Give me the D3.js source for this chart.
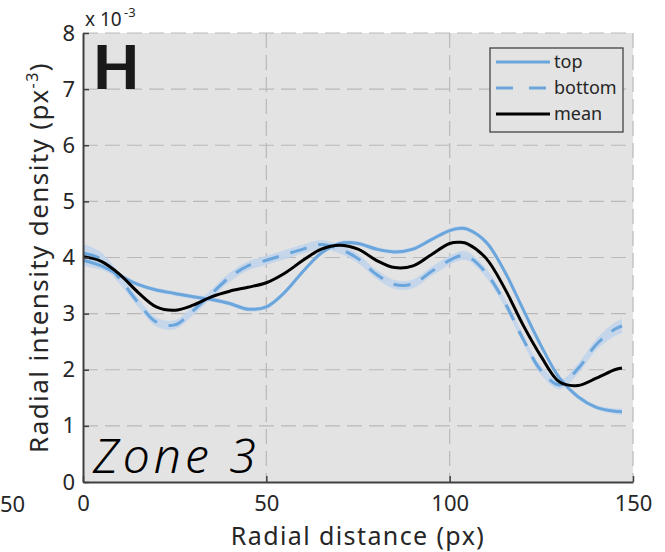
<!DOCTYPE html>
<html>
<head>
<meta charset="utf-8">
<script src="https://cdn.jsdelivr.net/npm/d3@7"></script>
<style>
  body { margin: 0; background: #fff; }
  svg { display: block; font-family: "Noto Sans", Lato, sans-serif; }
</style>
</head>
<body>
<div id="chart"></div>
<script>
// radial distance samples (px)
var xValues      = [0, 5, 10, 15, 20, 25, 30, 35, 40, 45, 50, 55, 60, 65, 70, 75, 80, 85, 90, 95, 100, 103, 105, 110, 115, 120, 125, 130, 135, 140, 145, 147];
// radial intensity density (x 10^-3)
var topValues    = [3.95, 3.85, 3.68, 3.52, 3.42, 3.36, 3.30, 3.25, 3.18, 3.08, 3.12, 3.38, 3.75, 4.08, 4.25, 4.25, 4.15, 4.10, 4.15, 4.32, 4.48, 4.52, 4.50, 4.27, 3.75, 3.08, 2.42, 1.85, 1.52, 1.33, 1.26, 1.25];
var bottomValues = [4.08, 3.97, 3.62, 3.20, 2.85, 2.80, 3.05, 3.35, 3.65, 3.85, 3.95, 4.05, 4.15, 4.23, 4.15, 3.98, 3.70, 3.52, 3.53, 3.75, 3.95, 4.03, 4.02, 3.72, 3.20, 2.55, 1.98, 1.73, 2.02, 2.45, 2.72, 2.78];
var meanValues   = [4.02, 3.93, 3.70, 3.38, 3.12, 3.06, 3.15, 3.30, 3.40, 3.47, 3.55, 3.72, 3.95, 4.15, 4.22, 4.15, 3.95, 3.82, 3.85, 4.05, 4.25, 4.27, 4.24, 3.98, 3.45, 2.80, 2.23, 1.78, 1.72, 1.85, 2.00, 2.03];
// half widths of the shaded bands
var topSpread    = [0.10, 0.07, 0.05, 0.04, 0.04, 0.04, 0.04, 0.04, 0.04, 0.04, 0.04, 0.04, 0.04, 0.04, 0.04, 0.04, 0.04, 0.04, 0.04, 0.04, 0.04, 0.04, 0.04, 0.04, 0.04, 0.04, 0.04, 0.04, 0.04, 0.04, 0.05, 0.06];
var bottomSpread = [0.16, 0.12, 0.09, 0.08, 0.08, 0.08, 0.08, 0.08, 0.08, 0.08, 0.08, 0.08, 0.08, 0.08, 0.08, 0.08, 0.08, 0.08, 0.08, 0.08, 0.08, 0.08, 0.08, 0.08, 0.08, 0.08, 0.08, 0.08, 0.09, 0.10, 0.12, 0.13];

var xTicks = [0, 50, 100, 150];
var yTicks = [0, 1, 2, 3, 4, 5, 6, 7, 8];
var legendNames = ["top", "bottom", "mean"];

var W = 665, H = 552;
var margin = {top: 33, right: 32, bottom: 70, left: 83},
  width = W - margin.left - margin.right,
  height = H - margin.top - margin.bottom;

var blue = "#6aa5dc", band = "#bfd4ec", axisCol = "#404040", gridCol = "#b9b9b9", textCol = "#262626";

var svg = d3.select("#chart")
  .append("svg")
  .attr("width", W)
  .attr("height", H);

var g = svg.append("g")
  .attr("transform", "translate(" + margin.left + "," + margin.top + ")");

var x = d3.scaleLinear().domain([0, 150]).range([0, width]);
var y = d3.scaleLinear().domain([0, 8]).range([height, 0]);

// plot background
g.append("rect")
  .attr("width", width)
  .attr("height", height)
  .attr("fill", "#e3e3e3");

// dashed grid
g.append("g").selectAll("line")
  .data(yTicks.filter(d => d > 0))
  .enter().append("line")
  .attr("x1", 0).attr("x2", width)
  .attr("y1", d => y(d)).attr("y2", d => y(d))
  .attr("stroke", gridCol).attr("stroke-width", 1.2)
  .attr("stroke-dasharray", "15,7");
g.append("g").selectAll("line")
  .data(xTicks.filter(d => d > 0))
  .enter().append("line")
  .attr("y1", 0).attr("y2", height)
  .attr("x1", d => x(d)).attr("x2", d => x(d))
  .attr("stroke", gridCol).attr("stroke-width", 1.2)
  .attr("stroke-dasharray", "15,7");

var pts = xValues.map(function(v, i) {
  return {x: v, top: topValues[i], bottom: bottomValues[i], mean: meanValues[i], ts: topSpread[i], bs: bottomSpread[i]};
});

var curve = d3.curveCatmullRom.alpha(0.5);

var area = function(key, spread) {
  return d3.area().curve(curve)
    .x(d => x(d.x))
    .y0(d => y(d[key] - d[spread]))
    .y1(d => y(d[key] + d[spread]));
};
var line = function(key) {
  return d3.line().curve(curve)
    .x(d => x(d.x))
    .y(d => y(d[key]));
};

// shaded bands
g.append("path").datum(pts).attr("d", area("bottom", "bs")).attr("fill", band).attr("opacity", 0.85);
g.append("path").datum(pts).attr("d", area("top", "ts")).attr("fill", band).attr("opacity", 0.85);

// lines
g.append("path").datum(pts).attr("d", line("bottom"))
  .attr("fill", "none").attr("stroke", blue).attr("stroke-width", 3)
  .attr("stroke-dasharray", "17,12");
g.append("path").datum(pts).attr("d", line("top"))
  .attr("fill", "none").attr("stroke", blue).attr("stroke-width", 3);
g.append("path").datum(pts).attr("d", line("mean"))
  .attr("fill", "none").attr("stroke", "#000").attr("stroke-width", 3);

// axes
var xAxis = g.append("g")
  .attr("transform", "translate(0," + height + ")")
  .call(d3.axisBottom(x).tickValues(xTicks).tickSizeInner(-6).tickSizeOuter(0).tickPadding(13));
var yAxis = g.append("g")
  .call(d3.axisLeft(y).tickValues(yTicks).tickSizeInner(-6).tickSizeOuter(0).tickPadding(8));
[xAxis, yAxis].forEach(function(a) {
  a.select(".domain").attr("stroke", axisCol).attr("stroke-width", 2);
  a.selectAll(".tick line").attr("stroke", axisCol).attr("stroke-width", 1.5);
  a.selectAll(".tick text").attr("fill", textCol).style("font-size", "22px").style("font-family", "'Noto Sans', sans-serif");
});
xAxis.selectAll(".tick text").attr("dy", "0.71em");

// exponent
svg.append("text")
  .attr("x", margin.left + 2).attr("y", 26)
  .attr("fill", textCol).style("font-size", "19px")
  .text("x 10");
svg.append("text")
  .attr("x", margin.left + 41).attr("y", 17)
  .attr("fill", textCol).style("font-size", "13px")
  .text("-3");

// axis labels
svg.append("text")
  .attr("x", margin.left + width / 2).attr("y", 545)
  .attr("text-anchor", "middle")
  .attr("fill", textCol).style("font-size", "25px").style("letter-spacing", "1.4px")
  .text("Radial distance (px)");

var yl = svg.append("text")
  .attr("transform", "translate(48," + (margin.top + height / 2) + ") rotate(-90)")
  .attr("text-anchor", "middle")
  .attr("fill", textCol).style("font-size", "26px").style("letter-spacing", "1.4px");
yl.append("tspan").text("Radial intensity density (px");
yl.append("tspan").attr("dy", -10).style("font-size", "16px").text("-3");
yl.append("tspan").attr("dy", 10).text(")");

// neighbour panel leftover (its tick label is cut by the page edge)
svg.append("text")
  .attr("x", 0).attr("y", 512)
  .attr("fill", textCol).style("font-size", "22px")
  .text("50");

// panel letter and zone
svg.append("text")
  .attr("x", 93).attr("y", 89)
  .attr("fill", "#1a1a1a").style("font-size", "60px").style("font-weight", 900)
  .style("font-family", "Lato, sans-serif")
  .text("H");
svg.append("text")
  .attr("x", 93).attr("y", 473)
  .attr("fill", "#000").style("font-size", "48px").style("font-style", "italic").style("font-weight", 300)
  .style("letter-spacing", "4px")
  .text("Zone 3");

// legend
var lg = svg.append("g").attr("transform", "translate(490,48)");
lg.append("rect")
  .attr("width", 133).attr("height", 84)
  .attr("fill", "#e3e3e3").attr("stroke", "#444").attr("stroke-width", 1.3);
var styles = [
  {stroke: blue, dash: null},
  {stroke: blue, dash: "17,16"},
  {stroke: "#000", dash: null}
];
legendNames.forEach(function(name, i) {
  var yy = 14 + i * 26;
  lg.append("line")
    .attr("x1", 6).attr("x2", 60).attr("y1", yy).attr("y2", yy)
    .attr("stroke", styles[i].stroke).attr("stroke-width", 3)
    .attr("stroke-dasharray", styles[i].dash);
  lg.append("text")
    .attr("x", 64).attr("y", yy + 6)
    .attr("fill", textCol).style("font-size", "18px")
    .text(name);
});
</script>
</body>
</html>
